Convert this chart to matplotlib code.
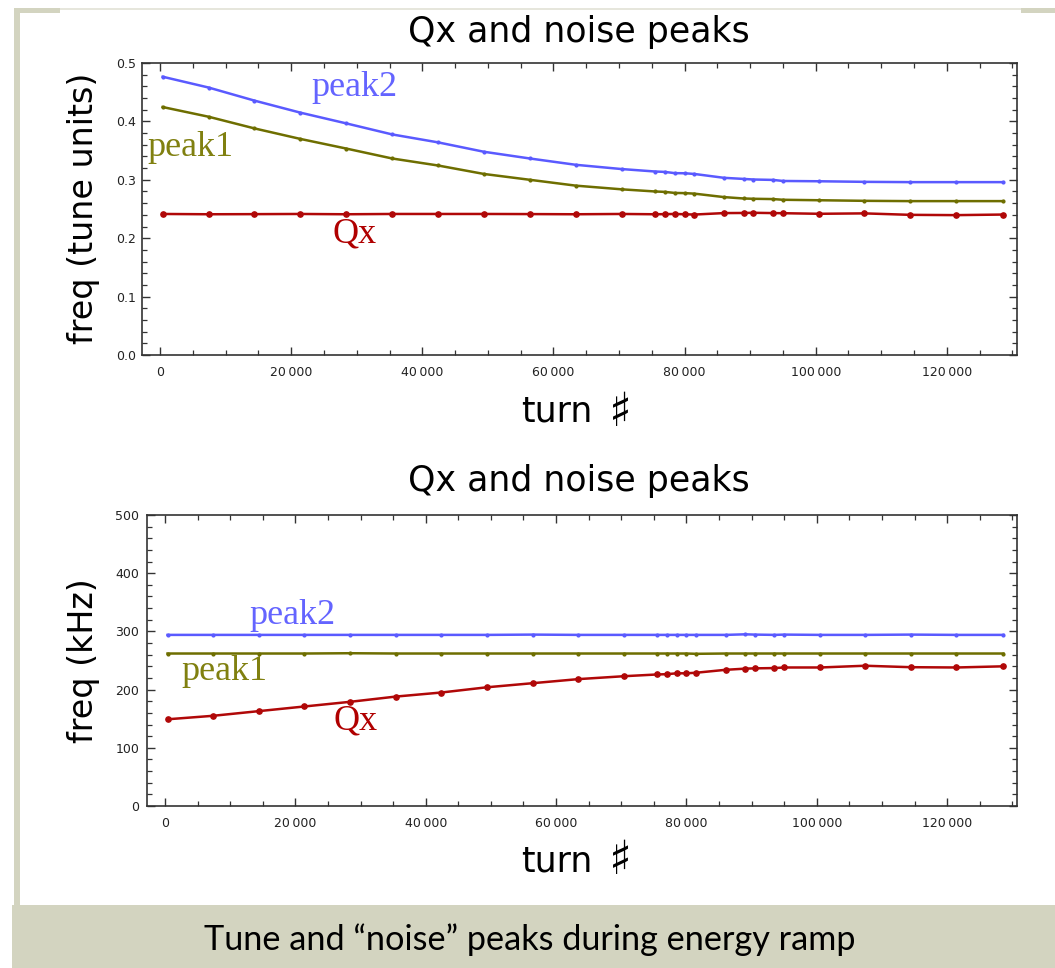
import matplotlib
matplotlib.use("Agg")
import matplotlib.pyplot as plt
from matplotlib.patches import Rectangle
from matplotlib.ticker import MultipleLocator, FuncFormatter

# ---- data ----
turns = [400, 7400, 14400, 21400, 28400, 35400, 42400, 49400, 56400, 63400,
         70400, 75500, 77000, 78500, 80000, 81500, 86000, 89000, 90500, 93500,
         95000, 100500, 107400, 114400, 121400, 128600]

# top panel: tune units
qx_tune = [0.2415, 0.2410, 0.2412, 0.2415, 0.2410, 0.2415, 0.2415, 0.2415, 0.2413, 0.2410,
           0.2415, 0.2410, 0.2412, 0.2415, 0.2410, 0.2405, 0.2430, 0.2432, 0.2435, 0.2430,
           0.2428, 0.2418, 0.2425, 0.2400, 0.2395, 0.2405]
peak1_tune = [0.4246, 0.408, 0.388, 0.370, 0.3535, 0.3365, 0.3245, 0.310, 0.300, 0.290,
              0.2837, 0.280, 0.2793, 0.2775, 0.2772, 0.2763, 0.2704, 0.268, 0.2675, 0.267,
              0.2658, 0.265, 0.264, 0.2635, 0.2635, 0.2635]
peak2_tune = [0.4765, 0.458, 0.4356, 0.415, 0.3966, 0.3777, 0.3641, 0.348, 0.3365, 0.3257,
              0.3184, 0.3142, 0.3135, 0.3114, 0.3112, 0.310, 0.3034, 0.3015, 0.3005, 0.2998,
              0.298, 0.2975, 0.2965, 0.296, 0.296, 0.296]

# bottom panel: kHz
qx_khz = [149, 155, 163, 171, 179, 188, 195, 204, 211, 218,
          223, 226, 226.5, 228, 228, 229, 234, 236, 236.5, 237,
          238, 238, 241, 238.5, 238, 240]
peak1_khz = [262, 262, 262, 262, 262.5, 262, 262, 262, 262, 262,
             262, 262, 262, 262, 262, 261.5, 262, 262, 262, 262,
             262, 262, 262, 262, 262, 262]
peak2_khz = [294, 294, 294, 294, 294, 294, 294, 294, 294.5, 294,
             294, 294, 294, 294, 294, 294, 294, 295, 294.5, 294,
             294.5, 294, 294, 294.5, 294, 294]

RED, BLUE, OLIVE = "#b00808", "#5a5aff", "#6e6e00"
W, H = 1055, 968

fig = plt.figure(figsize=(W / 100, H / 100), dpi=100)
fig.patch.set_facecolor("white")

# slide frame and caption band
BAND = "#d3d4c0"
fig.patches.append(Rectangle((12 / W, 0), 1 - 12 / W, 63 / H, transform=fig.transFigure,
                             fc=BAND, ec="none", zorder=0))
fig.patches.append(Rectangle((14 / W, 63 / H), 6 / W, (905 - 10) / H, transform=fig.transFigure,
                             fc=BAND, ec="none", zorder=0))
fig.patches.append(Rectangle((14 / W, 1 - 10 / H), 1 - 14 / W, 2 / H, transform=fig.transFigure,
                             fc="#e6e6dc", ec="none", zorder=0))
fig.patches.append(Rectangle((14 / W, 1 - 13 / H), 46 / W, 5 / H, transform=fig.transFigure,
                             fc=BAND, ec="none", zorder=0))
fig.patches.append(Rectangle((1021 / W, 1 - 13 / H), 1 - 1021 / W, 5 / H, transform=fig.transFigure,
                             fc=BAND, ec="none", zorder=0))
fig.text(530 / W, 1 - 940 / H, "Tune and \u201cnoise\u201d peaks during energy ramp",
         ha="center", va="center", fontsize=24.7, family="Lato", color="black")

ax1 = fig.add_axes([142 / W, 1 - 355 / H, 875 / W, 292 / H])
ax2 = fig.add_axes([147 / W, 1 - 806 / H, 870 / W, 291 / H])


def thin_k(v, pos):
    v = int(round(v))
    if v == 0:
        return "0"
    return f"{v:,}".replace(",", "\u2009")


for ax in (ax1, ax2):
    ax.set_xlim(-2750, 130700)
    ax.xaxis.set_major_locator(MultipleLocator(20000))
    ax.xaxis.set_minor_locator(MultipleLocator(5000))
    ax.xaxis.set_major_formatter(FuncFormatter(thin_k))
    ax.tick_params(which="both", direction="in", top=True, right=True,
                   colors="#333333", labelcolor="#222222", labelsize=9)
    ax.tick_params(which="major", length=6, width=1.0)
    ax.tick_params(which="minor", length=3.5, width=0.9)
    ax.tick_params(axis="x", pad=8)
    for s in ax.spines.values():
        s.set_color("#333333")
        s.set_linewidth(1.2)

# top panel
ax1.plot(turns, peak2_tune, "-o", color=BLUE, lw=1.8, ms=2.0)
ax1.plot(turns, peak1_tune, "-o", color=OLIVE, lw=1.8, ms=2.0)
ax1.plot(turns, qx_tune, "-o", color=RED, lw=1.8, ms=3.8)
ax1.set_ylim(0, 0.5)
ax1.yaxis.set_major_locator(MultipleLocator(0.1))
ax1.yaxis.set_minor_locator(MultipleLocator(0.02))
ax1.yaxis.set_major_formatter(FuncFormatter(lambda v, p: f"{v:.1f}"))
ax1.tick_params(axis="y", pad=4)

# bottom panel
ax2.plot(turns, peak2_khz, "-o", color=BLUE, lw=1.8, ms=2.0)
ax2.plot(turns, peak1_khz, "-o", color=OLIVE, lw=1.8, ms=2.0)
ax2.plot(turns, qx_khz, "-o", color=RED, lw=1.8, ms=3.8)
ax2.set_ylim(0, 500)
ax2.yaxis.set_major_locator(MultipleLocator(100))
ax2.yaxis.set_minor_locator(MultipleLocator(20))
ax2.tick_params(axis="y", pad=5.5)

# titles and axis labels placed in pixel positions of the slide
for ty in (32, 481):
    fig.text(579 / W, 1 - ty / H, "Qx and noise peaks", ha="center", va="center",
             fontsize=25, color="black")
for ty in (412, 861):
    fig.text(593 / W, 1 - ty / H, "turn", ha="right", va="center",
             fontsize=25, color="black")
    fig.text(620 / W, 1 - (ty + 1) / H, "\u266f", ha="center", va="center",
             fontsize=34, color="black")
fig.text(84 / W, 1 - 208 / H, "freq (tune units)", ha="center", va="center",
         rotation=90, fontsize=24, color="black")
fig.text(84 / W, 1 - 661 / H, "freq (kHz)", ha="center", va="center",
         rotation=90, fontsize=24, color="black")

# in-plot series labels (serif, as in the original)
lab = dict(family="Liberation Serif", fontsize=26, ha="center", va="center")
fig.text(354 / W, 1 - 88 / H, "peak2", color="#6464ff", **lab)
fig.text(190 / W, 1 - 148 / H, "peak1", color="#808010", **lab)
fig.text(355 / W, 1 - 234 / H, "Qx", color="#b00000", **lab)
fig.text(292 / W, 1 - 616 / H, "peak2", color="#6464ff", **lab)
fig.text(224 / W, 1 - 672 / H, "peak1", color="#808010", **lab)
fig.text(356 / W, 1 - 721 / H, "Qx", color="#b00000", **lab)

fig.savefig("out.png", dpi=100)
